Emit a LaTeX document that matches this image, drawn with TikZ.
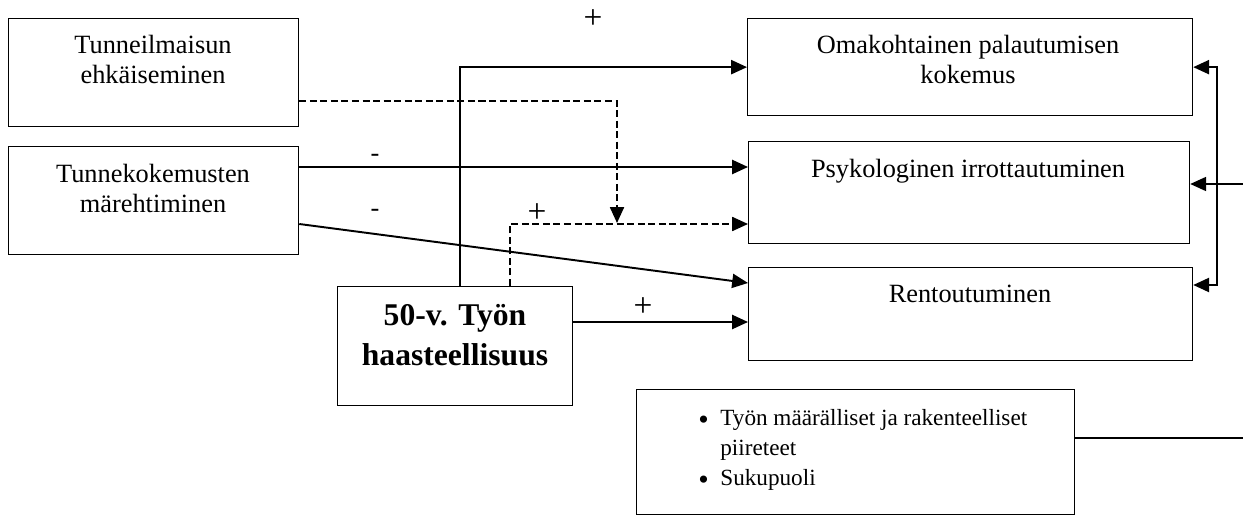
\documentclass[tikz,border=0pt]{standalone}
\usepackage{fontspec}
\setmainfont{Liberation Serif}
\usetikzlibrary{arrows.meta,calc}
\newcommand{\isopallo}{\makebox[0.44cm][l]{\raisebox{-2.5pt}{\fontsize{17}{17}\selectfont•}}}
\tikzset{
  >={Triangle[length=9pt,width=8pt]},
  box/.style={draw,line width=0.75pt,anchor=north west,inner sep=0pt},
  txt/.style={anchor=north,inner sep=0pt,align=center},
  conn/.style={line width=1.1pt,->},
  dconn/.style={line width=0.9pt,dash pattern=on 4pt off 2pt,->},
  sign/.style={inner sep=0pt},
  plus/.style={inner sep=0pt,font=\fontsize{19}{19}\selectfont}
}
\begin{document}
\begin{tikzpicture}[x=0.02cm,y=-0.02cm,font=\fontsize{15}{16.8}\selectfont]
  \useasboundingbox (0,0) rectangle (1243,516);
  \node[box,minimum width=5.8cm,minimum height=2.16cm] (ehk) at (8,18) {};
  \node[txt] (tehk) at (153,35) {Tunneilmaisun\\ehkäiseminen};
  \node[box,minimum width=5.8cm,minimum height=2.16cm] (mar) at (8,146) {};
  \node[txt] (tmar) at (153,164) {Tunnekokemusten\\märehtiminen};
  \node[box,minimum width=8.9cm,minimum height=1.94cm] (oma) at (747,18) {};
  \node[txt] (toma) at (968,35) {Omakohtainen palautumisen\\kokemus};
  \node[box,minimum width=8.82cm,minimum height=2.04cm] (psyk) at (748,141) {};
  \node[txt] (tpsyk) at (968,159) {Psykologinen irrottautuminen};
  \node[box,minimum width=8.88cm,minimum height=1.86cm] (rent) at (748,267) {};
  \node[txt] (trent) at (970,285) {Rentoutuminen};
  \node[box,minimum width=4.7cm,minimum height=2.38cm] (haas) at (337,286) {};
  \node[txt,font=\fontsize{18}{22.7}\selectfont\bfseries] (thaas) at (455,304) {50-v. Työn\\haasteellisuus};
  \node[box,minimum width=8.76cm,minimum height=2.5cm] (taus) at (636,389) {};
  \node[anchor=north west,inner sep=0pt,align=left,font=\fontsize{13.2}{17}\selectfont] (ttaus) at (698,409)
    {\isopallo Työn määrälliset ja rakenteelliset\\\hspace*{0.44cm}piireteet\\\isopallo Sukupuoli};

  \coordinate (yhd) at (617,223);
  \coordinate (reuna1) at (1243,184);
  \coordinate (reuna2) at (1243,438);

  \draw[conn] ($(haas.north west)+(123,0)$) |- (oma.west);
  \draw[dconn] ($(ehk.north east)+(0,83)$) -| (yhd);
  \draw[dconn] ($(haas.north west)+(173,0)$) |- ($(psyk.north west)+(0,83)$);
  \draw[conn] ($(mar.north east)+(0,21)$) -- ($(psyk.north west)+(0,26)$);
  \draw[conn] ($(mar.north east)+(0,78)$) -- ($(rent.north west)+(0,16)$);
  \draw[conn] ($(haas.north east)+(0,36)$) -- ($(rent.north west)+(0,55)$);
  \draw[line width=1.1pt,<->] (oma.east) -- ++(24,0) |- ($(rent.north east)+(0,18)$);
  \draw[line width=0.75pt,->] (reuna1) -- (psyk.east |- reuna1);
  \draw[line width=0.75pt] (taus.east |- reuna2) -- (reuna2);

  \node[sign] (m1) at (375,158) {-};
  \node[sign] (m2) at (375,213) {-};
  \node[plus] (p1) at (593,19) {+};
  \node[plus] (p2) at (537,213) {+};
  \node[plus] (p3) at (643,307) {+};
\end{tikzpicture}
\end{document}
